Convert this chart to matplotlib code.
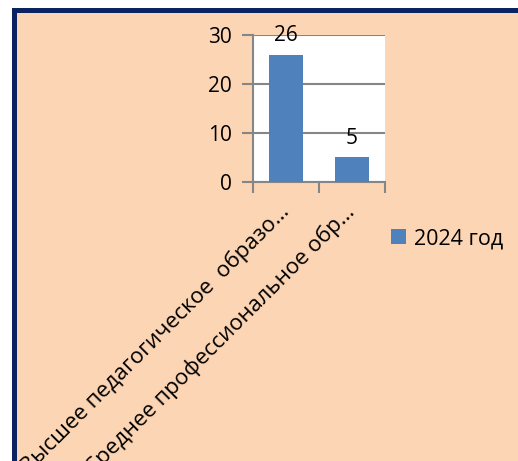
import matplotlib
matplotlib.use("Agg")
import matplotlib.pyplot as plt
from matplotlib.patches import Rectangle, Patch

# data
categories = ["Высшее педагогическое  образо…", "Среднее профессиональное обр…"]
values = [26, 5]
series_name = "2024 год"
y_ticks = [0, 10, 20, 30]

plt.rcParams["font.family"] = ["Open Sans", "DejaVu Sans"]

BAR = "#4F81BD"
PEACH = "#FCD5B4"
NAVY = "#0B2361"
GRID = "#868686"
FS = 15

W, H = 518, 461
fig = plt.figure(figsize=(W / 100, H / 100), dpi=100)
fig.patch.set_facecolor("white")

# framed peach background (extends past right/bottom edge)
fig.patches.append(Rectangle((13.5 / W, -0.1), 1.2, (H - 10.5) / H + 0.1,
                             transform=fig.transFigure, facecolor=PEACH,
                             edgecolor=NAVY, linewidth=3.6, zorder=-5))

ax = fig.add_axes([253 / W, (H - 182) / H, 132 / W, 147 / H])
ax.set_facecolor("white")

x = list(range(len(categories)))
ax.bar(x, values, width=0.52, color=BAR, zorder=3)

for xi, v in zip(x, values):
    ax.annotate(str(v), (xi, v), xytext=(0, 14), textcoords="offset points",
                ha="center", va="center", fontsize=FS, zorder=4)

ax.set_xlim(-0.5, len(categories) - 0.5)
ax.set_ylim(0, 30)
ax.set_yticks(y_ticks)
ax.set_yticklabels([str(t) for t in y_ticks], fontsize=FS)
ax.grid(axis="y", color=GRID, linewidth=1.5, zorder=1)

ax.set_xticks(x)
ax.set_xticklabels(categories, fontsize=16, rotation=45, ha="right",
                   va="center", rotation_mode="anchor")
ax.set_xticks([i - 0.5 for i in range(len(categories) + 1)], minor=True)
ax.tick_params(axis="x", which="major", length=0, pad=19)
ax.tick_params(axis="x", which="minor", length=8, width=1.5, color=GRID)
ax.tick_params(axis="y", length=8, width=1.5, color=GRID, pad=7)

for s in ["top", "right"]:
    ax.spines[s].set_visible(False)
for s in ["left", "bottom"]:
    ax.spines[s].set_color(GRID)
    ax.spines[s].set_linewidth(1.5)

fig.legend(handles=[Patch(facecolor=BAR, label=series_name)],
           loc="center left", bbox_to_anchor=(382 / W, (H - 239) / H),
           frameon=False, fontsize=15.5, handlelength=0.7, handleheight=0.7,
           handletextpad=0.4, borderaxespad=0)

fig.savefig("out.png", dpi=100)
